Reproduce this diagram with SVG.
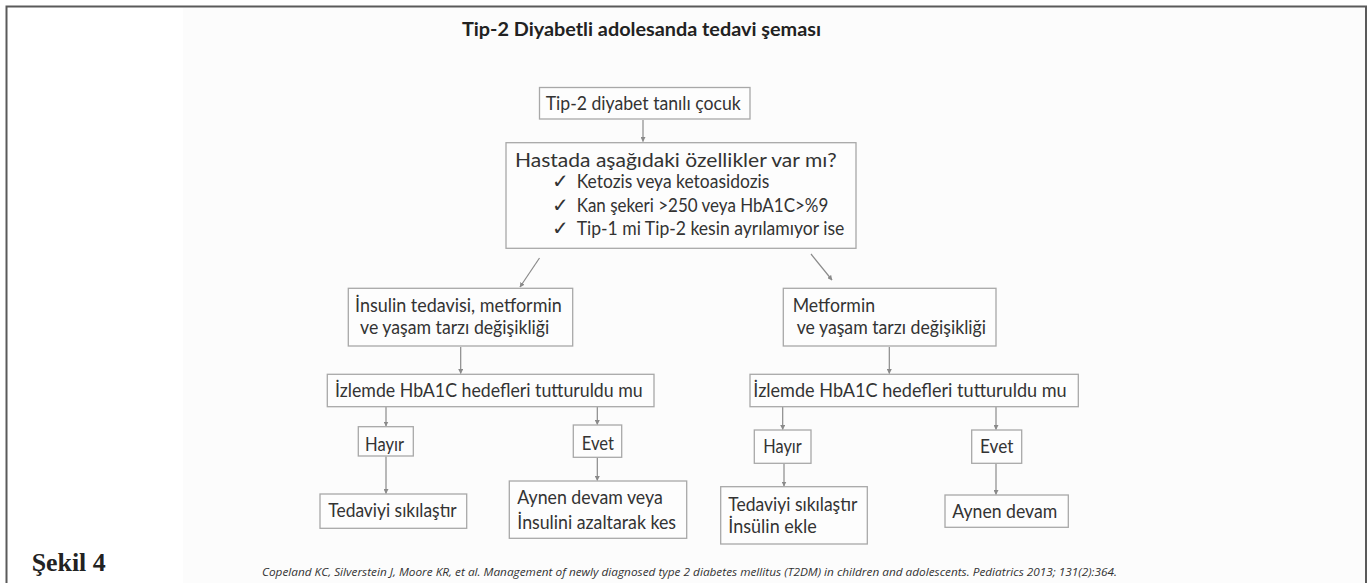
<svg xmlns="http://www.w3.org/2000/svg" width="1370" height="583" viewBox="0 0 1370 583">
<defs>
<marker id="ah" viewBox="0 0 10 10" refX="9" refY="5" markerWidth="5" markerHeight="5" orient="auto" markerUnits="userSpaceOnUse">
<path d="M0,0 L10,5 L0,10 z" fill="#8a8a8a"/>
</marker>
<style>
.box{fill:#fdfdfd;stroke:#a8a8a8;stroke-width:1.3}
.t{font-family:Lato,"Open Sans","Liberation Sans",sans-serif;font-size:19.5px;fill:#333}
.ck{font-family:"DejaVu Sans",sans-serif;font-size:20px;fill:#333}
.c{stroke:#8a8a8a;stroke-width:1.2;fill:none;marker-end:url(#ah)}
</style>
</defs>
<rect x="0" y="0" width="1370" height="583" fill="#ffffff"/>
<rect x="183" y="8" width="1182" height="580" fill="#fcfcfc"/>
<rect x="6.5" y="6.5" width="1359.5" height="600" fill="none" stroke="#5a5a5a" stroke-width="2"/>
<text x="462" y="35.5" textLength="359" lengthAdjust="spacingAndGlyphs" style="font-family:Lato,'Open Sans','Liberation Sans',sans-serif;font-size:18.5px;font-weight:bold;fill:#222">Tip-2 Diyabetli adolesanda tedavi şeması</text>
<g id="connectors">
<line class="c" x1="643" y1="120" x2="643" y2="141.5"/>
<line class="c" x1="539.5" y1="258" x2="520" y2="287"/>
<line class="c" x1="811" y1="254" x2="832" y2="280"/>
<line class="c" x1="460.7" y1="347" x2="460.7" y2="373.5"/>
<line class="c" x1="889.3" y1="347" x2="889.3" y2="373.5"/>
<line class="c" x1="386" y1="407" x2="386" y2="426"/>
<line class="c" x1="597.3" y1="407" x2="597.3" y2="424.5"/>
<line class="c" x1="782.7" y1="407" x2="782.7" y2="429.5"/>
<line class="c" x1="996" y1="407" x2="996" y2="429.5"/>
<line class="c" x1="386" y1="456.5" x2="386" y2="493.5"/>
<line class="c" x1="597.3" y1="457.5" x2="597.3" y2="480.5"/>
<line class="c" x1="784" y1="463.5" x2="784" y2="486"/>
<line class="c" x1="996" y1="463.5" x2="996" y2="494.5"/>
</g>
<g id="n1">
<rect class="box" x="539.5" y="87.5" width="210.5" height="31.5"/>
<text class="t" x="545.7" y="110" textLength="195" lengthAdjust="spacingAndGlyphs">Tip-2 diyabet tanılı çocuk</text>
</g>
<g id="n2">
<rect class="box" x="506" y="142.7" width="350" height="105.6"/>
<text class="t" x="515" y="166.7" textLength="321.7" lengthAdjust="spacingAndGlyphs">Hastada aşağıdaki özellikler var mı?</text>
<text class="ck" x="552" y="188.3">✓</text>
<text class="t" x="576.7" y="188.3" textLength="192.6" lengthAdjust="spacingAndGlyphs">Ketozis veya ketoasidozis</text>
<text class="ck" x="552" y="212">✓</text>
<text class="t" x="576.7" y="212" textLength="251.6" lengthAdjust="spacingAndGlyphs">Kan şekeri &gt;250 veya HbA1C&gt;%9</text>
<text class="ck" x="552" y="235.3">✓</text>
<text class="t" x="576.7" y="235.3" textLength="267.6" lengthAdjust="spacingAndGlyphs">Tip-1 mi Tip-2 kesin ayrılamıyor ise</text>
</g>
<g id="n3">
<rect class="box" x="348.3" y="288.3" width="224.4" height="57.7"/>
<text class="t" x="355" y="311.7" textLength="206.7" lengthAdjust="spacingAndGlyphs">İnsulin tedavisi, metformin</text>
<text class="t" x="360" y="334.3" textLength="189.3" lengthAdjust="spacingAndGlyphs">ve yaşam tarzı değişikliği</text>
</g>
<g id="n4">
<rect class="box" x="783.3" y="288.3" width="212.7" height="57.7"/>
<text class="t" x="792.7" y="311.7" textLength="82.3" lengthAdjust="spacingAndGlyphs">Metformin</text>
<text class="t" x="796.7" y="334.3" textLength="189.3" lengthAdjust="spacingAndGlyphs">ve yaşam tarzı değişikliği</text>
</g>
<g id="n5">
<rect class="box" x="327.3" y="374.3" width="326.7" height="32.4"/>
<text class="t" x="335" y="396.7" textLength="307.7" lengthAdjust="spacingAndGlyphs">İzlemde HbA1C hedefleri tutturuldu mu</text>
</g>
<g id="n6">
<rect class="box" x="750" y="374.3" width="328.3" height="32.4"/>
<text class="t" x="753.3" y="396.7" textLength="313.4" lengthAdjust="spacingAndGlyphs">İzlemde HbA1C hedefleri tutturuldu mu</text>
</g>
<g id="n7">
<rect class="box" x="358.3" y="426.7" width="55" height="29.3"/>
<text class="t" x="365" y="450.7" textLength="39" lengthAdjust="spacingAndGlyphs">Hayır</text>
</g>
<g id="n8">
<rect class="box" x="573.3" y="425" width="48.4" height="32.3"/>
<text class="t" x="581.7" y="450" textLength="32.3" lengthAdjust="spacingAndGlyphs">Evet</text>
</g>
<g id="n9">
<rect class="box" x="320" y="494" width="146.7" height="34.3"/>
<text class="t" x="328.3" y="516.7" textLength="128.4" lengthAdjust="spacingAndGlyphs">Tedaviyi sıkılaştır</text>
</g>
<g id="n10">
<rect class="box" x="509.3" y="481" width="177.4" height="57.3"/>
<text class="t" x="517.3" y="504.3" textLength="145.4" lengthAdjust="spacingAndGlyphs">Aynen devam veya</text>
<text class="t" x="517.3" y="529" textLength="158.7" lengthAdjust="spacingAndGlyphs">İnsulini azaltarak kes</text>
</g>
<g id="n11">
<rect class="box" x="754.3" y="430" width="56.7" height="33.3"/>
<text class="t" x="763.3" y="453.3" textLength="38.4" lengthAdjust="spacingAndGlyphs">Hayır</text>
</g>
<g id="n12">
<rect class="box" x="971.7" y="430" width="50" height="33.3"/>
<text class="t" x="980" y="453.3" textLength="33.3" lengthAdjust="spacingAndGlyphs">Evet</text>
</g>
<g id="n13">
<rect class="box" x="720.7" y="486.7" width="146.6" height="57.3"/>
<text class="t" x="728.3" y="510.7" textLength="129" lengthAdjust="spacingAndGlyphs">Tedaviyi sıkılaştır</text>
<text class="t" x="728.3" y="533.3" textLength="88.4" lengthAdjust="spacingAndGlyphs">İnsülin ekle</text>
</g>
<g id="n14">
<rect class="box" x="945" y="495" width="123.3" height="32.3"/>
<text class="t" x="952.3" y="518.3" textLength="105" lengthAdjust="spacingAndGlyphs">Aynen devam</text>
</g>
<text x="31.7" y="570.7" textLength="74" lengthAdjust="spacingAndGlyphs" style="font-family:'Liberation Serif',serif;font-size:26px;font-weight:bold;fill:#222">Şekil 4</text>
<text x="262" y="576" textLength="855" lengthAdjust="spacingAndGlyphs" style="font-family:'Open Sans','Liberation Sans',sans-serif;font-size:10.5px;font-style:italic;fill:#333">Copeland KC, Silverstein J, Moore KR, et al. Management of newly diagnosed type 2 diabetes mellitus (T2DM) in children and adolescents. Pediatrics 2013; 131(2):364.</text>
</svg>
